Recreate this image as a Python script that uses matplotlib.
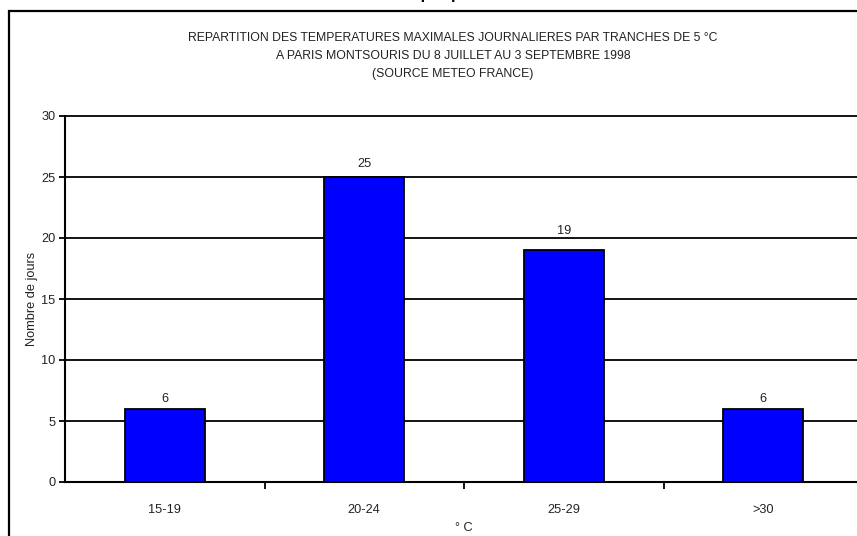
import matplotlib
matplotlib.use("Agg")
import matplotlib.pyplot as plt
from matplotlib.patches import Rectangle

plt.rcParams['font.family'] = ['Liberation Sans', 'DejaVu Sans']

categories = ["15-19", "20-24", "25-29", ">30"]
days = [6, 25, 19, 6]
y_ticks = [0, 5, 10, 15, 20, 25, 30]

W, H = 857, 536
DPI = 100
fig = plt.figure(figsize=(W / DPI, H / DPI), dpi=DPI)
fig.patch.set_facecolor("white")

TXT = "#222222"
FS = 9.2

# outer frame of the chart area
frame = Rectangle((9 / W, -0.05), 1.1, 1 - 11 / H + 0.05, transform=fig.transFigure,
                  fill=False, edgecolor="black", linewidth=1.6, clip_on=False)
fig.patches.append(frame)

fig.text(440 / W, 1 - 2 / H, "Graphique 1", ha="center", va="bottom",
         fontsize=12, fontweight="bold")

title = ("REPARTITION DES TEMPERATURES MAXIMALES JOURNALIERES PAR TRANCHES DE 5 °C\n"
         "A PARIS MONTSOURIS DU 8 JUILLET AU 3 SEPTEMBRE 1998\n"
         "(SOURCE METEO FRANCE)")
fig.text(453 / W, 1 - 32 / H, title, ha="center", va="top", fontsize=8.8,
         linespacing=1.68, color=TXT)

left, right = 65, 65 + 4 * 199.5
top, bottom = 116, 482
ax = fig.add_axes([left / W, 1 - bottom / H, (right - left) / W, (bottom - top) / H])

x = list(range(len(categories)))
ax.bar(x, days, width=0.4, color="#0000FF", edgecolor="black", linewidth=1.3, zorder=3)

# value labels above each bar (gap in points, nudged clear of the gridlines)
label_gap_pt = [3, 5, 9.5, 3]
for xi, v, gap in zip(x, days, label_gap_pt):
    ax.annotate(str(v), (xi, v), xytext=(0, gap), textcoords="offset points",
                ha="center", va="bottom", fontsize=FS, color=TXT)

ax.set_xlim(-0.5, len(categories) - 0.5)
ax.set_ylim(0, 30)
ax.set_yticks(y_ticks)
ax.yaxis.grid(True, color="black", linewidth=1.3, zorder=0)
for gl in ax.get_ygridlines():
    gl.set_clip_on(False)
ax.set_axisbelow(True)

ax.set_xticks([0.5, 1.5, 2.5])
ax.set_xticklabels([])
ax.set_xticks(x, minor=True)
ax.set_xticklabels(categories, minor=True, fontsize=FS, color=TXT)
ax.tick_params(axis="x", which="minor", length=0, pad=15.5)
ax.tick_params(axis="x", which="major", length=5, width=1.3, direction="out", color="black")
ax.tick_params(axis="y", length=4, width=1.3, direction="out", labelsize=FS,
               labelcolor=TXT, pad=3)

for s in ["top", "right"]:
    ax.spines[s].set_visible(False)
for s in ["left", "bottom"]:
    ax.spines[s].set_linewidth(1.5)

ax.set_xlabel("° C", fontsize=FS, color=TXT, labelpad=5)
ax.set_ylabel("Nombre de jours", fontsize=FS, color=TXT, labelpad=2.5)

fig.savefig("out.png", dpi=DPI)
